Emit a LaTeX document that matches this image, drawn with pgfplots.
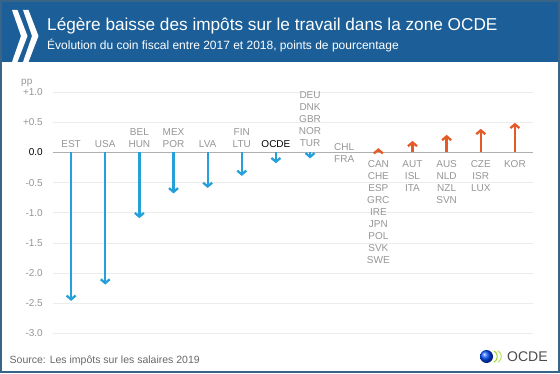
\documentclass[border=0pt]{standalone}
\usepackage{fontspec}
\setmainfont{Liberation Sans}
\usepackage{pgfplots}
\usepackage{pgfplotstable}
\pgfplotsset{compat=1.18}
\usetikzlibrary{arrows.meta}
\definecolor{hdrblue}{RGB}{28,95,152}
\definecolor{frameblue}{RGB}{55,100,135}
\definecolor{arrblue}{RGB}{38,160,218}
\definecolor{arrorange}{RGB}{228,90,40}
\definecolor{labgray}{RGB}{150,150,150}
\definecolor{gridgray}{RGB}{236,236,236}
\definecolor{zerogray}{RGB}{175,175,175}
\definecolor{srcgray}{RGB}{105,105,105}
\tikzset{lab/.style={anchor=base, inner sep=0pt, text=labgray, font=\fontsize{10}{12}\selectfont}}

% change in tax wedge 2017-2018, pp (negative)
\pgfplotstableread{
x v
0 -2.46
1 -2.19
2 -1.09
3 -0.68
4 -0.59
5 -0.39
6 -0.18
7 -0.10
}\negtab
% positive changes (CHL/FRA at x=8 is 0.0)
\pgfplotstableread{
x v
9 0.07
10 0.19
11 0.29
12 0.39
13 0.49
}\postab

\begin{document}
\begin{tikzpicture}
% background and frame
\fill[white] (0,0) rectangle (560pt,373pt);
\fill[hdrblue] (0,311pt) rectangle (560pt,373pt);
\draw[frameblue, line width=2pt] (1pt,1pt) rectangle (559pt,372pt);
% OECD chevrons
\fill[white] (12pt,363pt) -- (17.5pt,363pt) -- (27.5pt,337pt) -- (17.5pt,311pt) -- (12pt,311pt) -- (21pt,337pt) -- cycle;
\fill[white] (23pt,363pt) -- (28.5pt,363pt) -- (38.5pt,337pt) -- (28.5pt,311pt) -- (23pt,311pt) -- (32pt,337pt) -- cycle;
% titles
\node[anchor=base west, inner sep=0, text=white, font=\fontsize{17.2}{20}\selectfont] at (47pt,342.6pt) {Légère baisse des impôts sur le travail dans la zone OCDE};
\node[anchor=base west, inner sep=0, text=white, font=\fontsize{12}{14}\selectfont] at (47pt,323pt) {Évolution du coin fiscal entre 2017 et 2018, points de pourcentage};
% pp
\node[anchor=base west, inner sep=0, text=labgray, font=\fontsize{10}{12}\selectfont] at (21pt,288pt) {pp};
% source
\node[anchor=base west, inner sep=0, text=srcgray, font=\fontsize{10.5}{12}\selectfont] at (9.5pt,9.4pt) {Source: Les impôts sur les salaires 2019};
% bottom-right logo
\shade[ball color=blue!70!cyan] (486.5pt,16.5pt) circle (6.5pt);
\draw[yellow!60!green, line width=1pt] (494pt,22pt) arc[start angle=60, end angle=-60, radius=6.5pt];
\draw[yellow!60!green!70, line width=1pt] (498pt,22pt) arc[start angle=60, end angle=-60, radius=6.5pt];
\node[anchor=base west, inner sep=0, text=black!70, font=\fontsize{14}{16}\selectfont] at (507pt,11.3pt) {OCDE};

\begin{axis}[
  at={(53pt,39.5pt)}, anchor=south west,
  scale only axis, width=480pt, height=241.5pt,
  xmin=-0.53, xmax=13.53, ymin=-3, ymax=1,
  clip=false,
  axis line style={draw=none},
  tick style={draw=none},
  major tick length=0pt,
  xtick=\empty,
  ytick={-3,-2.5,-2,-1.5,-1,-0.5,0,0.5,1},
  yticklabels={-3.0,-2.5,-2.0,-1.5,-1.0,-0.5,{\textcolor{black}{0.0}},+0.5,+1.0},
  yticklabel style={anchor=east, inner sep=0pt, xshift=-10pt, text=labgray, font=\fontsize{10}{12}\selectfont},
  ymajorgrids,
  grid style={gridgray, line width=0.8pt},
]
\addplot[zerogray, line width=1.3pt] coordinates {(-0.53,0) (13.53,0)};
\addplot[arrblue, line width=2.3pt, quiver={u=0, v=\thisrow{v}}, -{Straight Barb[length=3.8pt, width=9pt]}] table[x=x, y expr=0] {\negtab};
\addplot[arrorange, line width=2.3pt, quiver={u=0, v=\thisrow{v}}, -{Straight Barb[length=3.8pt, width=9pt]}] table[x=x, y expr=0] {\postab};
% labels above zero (negative changes)
\node[lab, yshift=4.9pt] at (axis cs:0,0) {EST};
\node[lab, yshift=4.9pt] at (axis cs:1,0) {USA};
\node[lab, yshift=4.9pt] at (axis cs:2,0) {HUN};
\node[lab, yshift=16.9pt] at (axis cs:2,0) {BEL};
\node[lab, yshift=4.9pt] at (axis cs:3,0) {POR};
\node[lab, yshift=16.9pt] at (axis cs:3,0) {MEX};
\node[lab, yshift=4.9pt] at (axis cs:4,0) {LVA};
\node[lab, yshift=4.9pt] at (axis cs:5,0) {LTU};
\node[lab, yshift=16.9pt] at (axis cs:5,0) {FIN};
\node[lab, text=black, yshift=4.9pt] at (axis cs:6,0) {OCDE};
\node[lab, yshift=5.9pt] at (axis cs:7,0) {TUR};
\node[lab, yshift=17.9pt] at (axis cs:7,0) {NOR};
\node[lab, yshift=29.9pt] at (axis cs:7,0) {GBR};
\node[lab, yshift=41.9pt] at (axis cs:7,0) {DNK};
\node[lab, yshift=53.9pt] at (axis cs:7,0) {DEU};
% zero change
\node[lab, yshift=2.2pt] at (axis cs:8,0) {CHL};
\node[lab, yshift=-10.1pt] at (axis cs:8,0) {FRA};
% labels below zero (positive changes)
\node[lab, yshift=-15.1pt] at (axis cs:9,0) {CAN};
\node[lab, yshift=-27.1pt] at (axis cs:9,0) {CHE};
\node[lab, yshift=-39.1pt] at (axis cs:9,0) {ESP};
\node[lab, yshift=-51.1pt] at (axis cs:9,0) {GRC};
\node[lab, yshift=-63.1pt] at (axis cs:9,0) {IRE};
\node[lab, yshift=-75.1pt] at (axis cs:9,0) {JPN};
\node[lab, yshift=-87.1pt] at (axis cs:9,0) {POL};
\node[lab, yshift=-99.1pt] at (axis cs:9,0) {SVK};
\node[lab, yshift=-111.1pt] at (axis cs:9,0) {SWE};
\node[lab, yshift=-15.1pt] at (axis cs:10,0) {AUT};
\node[lab, yshift=-27.1pt] at (axis cs:10,0) {ISL};
\node[lab, yshift=-39.1pt] at (axis cs:10,0) {ITA};
\node[lab, yshift=-15.1pt] at (axis cs:11,0) {AUS};
\node[lab, yshift=-27.1pt] at (axis cs:11,0) {NLD};
\node[lab, yshift=-39.1pt] at (axis cs:11,0) {NZL};
\node[lab, yshift=-51.1pt] at (axis cs:11,0) {SVN};
\node[lab, yshift=-15.1pt] at (axis cs:12,0) {CZE};
\node[lab, yshift=-27.1pt] at (axis cs:12,0) {ISR};
\node[lab, yshift=-39.1pt] at (axis cs:12,0) {LUX};
\node[lab, yshift=-15.1pt] at (axis cs:13,0) {KOR};
\end{axis}
\pgfresetboundingbox
\path[use as bounding box] (0,0) rectangle (560pt,373pt);
\end{tikzpicture}
\end{document}
